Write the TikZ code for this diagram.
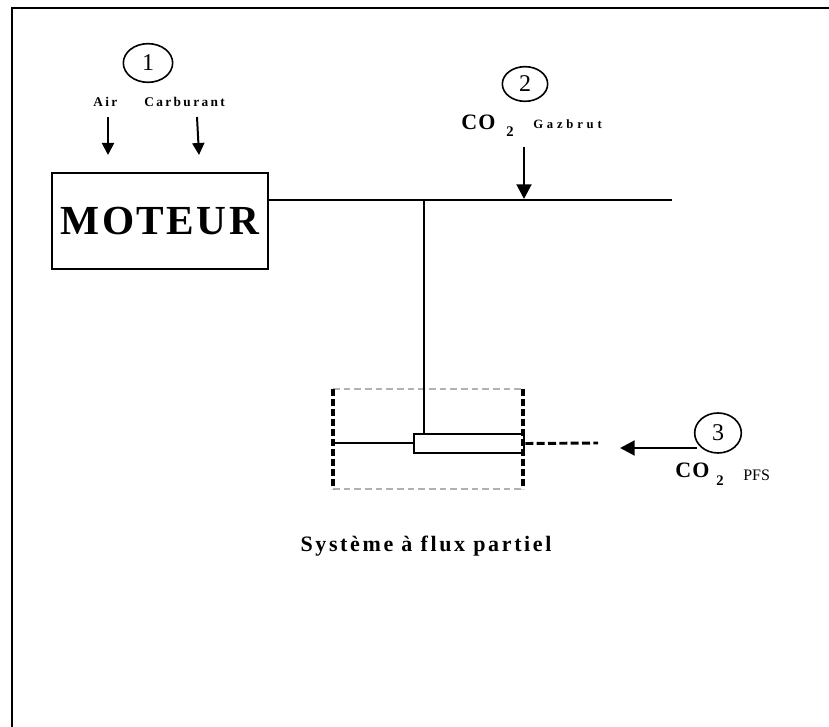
\documentclass[tikz,border=0pt]{standalone}
\usepackage{fontspec}
\setmainfont{Liberation Serif}
\usetikzlibrary{shapes.geometric,arrows.meta}

\newfontfamily\moteurfont[LetterSpace=6]{Liberation Serif}
\newfontfamily\petitfont[LetterSpace=18]{Liberation Serif}
\newfontfamily\gazfont[LetterSpace=30]{Liberation Serif}
\newfontfamily\cofont[LetterSpace=6]{Liberation Serif}
\newfontfamily\sysfont[LetterSpace=12]{Liberation Serif}

\tikzstyle{num} = [draw, ellipse, line width=1.2pt, inner sep=0pt, font=\fontsize{18}{18}\selectfont]
\tikzstyle{fleche} = [line width=1.5pt, -{Triangle[length=9pt,width=9pt]}]
\tikzstyle{grossefleche} = [line width=2.2pt, -{Triangle[length=11pt,width=11pt]}]
\tikzstyle{txt} = [inner sep=0pt, anchor=base west]

\begin{document}
\begin{tikzpicture}[x=0.75pt, y=-0.75pt]
\useasboundingbox (0,0) rectangle (829,727);
% cadre
\draw[line width=1.5pt] (12,727) -- (12,8) -- (829,8);

% moteur et entrees
\node[draw, line width=1.2pt, minimum width=162pt, minimum height=72pt, inner sep=0pt,
      font=\moteurfont\fontsize{31}{31}\selectfont\bfseries] (moteur) at (160,221) {MOTEUR};
\node[num, minimum width=37pt, minimum height=29pt] (un) at (148,63) {1};
\node[txt, font=\petitfont\fontsize{10}{10}\selectfont\bfseries] (air) at (93,107) {Air};
\node[txt, font=\petitfont\fontsize{10}{10}\selectfont\bfseries] (carb) at (144,107) {Carburant};
\coordinate (airhaut) at (108,117);
\coordinate (airbas) at (108,155);
\coordinate (carbhaut) at (197,117);
\coordinate (carbbas) at (199,155);
\draw[fleche] (airhaut) -- (airbas);
\draw[fleche] (carbhaut) -- (carbbas);

% ligne d'echappement
\coordinate (fin) at (672,200);
\coordinate (jonction) at (424,200);
\draw[line width=1.5pt] (moteur.east |- fin) -- (fin);

% gaz brut
\node[num, minimum width=34pt, minimum height=26pt] (deux) at (525,84) {2};
\node[txt, font=\cofont\fontsize{16.5}{16.5}\selectfont\bfseries] (cobrut) at (461,130) {CO};
\node[txt, font=\fontsize{11}{11}\selectfont\bfseries] (indbrut) at (506,137) {2};
\node[txt, font=\gazfont\fontsize{9.5}{9.5}\selectfont\bfseries] (gaz) at (533,129) {Gazbrut};
\coordinate (gazhaut) at (524,147);
\coordinate (gazbas) at (524,199);
\draw[grossefleche] (gazhaut) -- (gazbas);

% systeme a flux partiel
\draw[line width=0.8pt, gray!60, dash pattern=on 5pt off 3pt] (333,389) -- (523,389);
\draw[line width=0.8pt, gray!60, dash pattern=on 5pt off 3pt] (333,489) -- (523,489);
\draw[line width=2.4pt, dash pattern=on 5pt off 2.5pt] (333,389) -- (333,489);
\draw[line width=2.4pt, dash pattern=on 5pt off 2.5pt] (523,389) -- (523,489);
\node[draw, line width=1.5pt, minimum width=83pt, minimum height=14pt, inner sep=0pt] (tube) at (469,443.5) {};
\coordinate (entree) at (333,443.5);
\coordinate (sortie) at (598,443);
\draw[line width=1.5pt] (jonction) -- (jonction |- tube.north);
\draw[line width=1.5pt] (entree) -- (tube.west);
\draw[line width=2.2pt, dash pattern=on 6pt off 2.5pt] (tube.east) -- (sortie);
\node[font=\sysfont\fontsize{16.5}{16.5}\selectfont\bfseries, anchor=base] (sys) at (426,551) {Système à flux partiel};

% co2 pfs
\node[num, minimum width=35pt, minimum height=30pt] (trois) at (718,433) {3};
\node[txt, font=\cofont\fontsize{16.5}{16.5}\selectfont\bfseries] (copfs) at (675,478) {CO};
\node[txt, font=\fontsize{11}{11}\selectfont\bfseries] (indpfs) at (716,485) {2};
\node[txt, font=\fontsize{12}{12}\selectfont] (pfs) at (743,480) {PFS};
\coordinate (pfsdroite) at (697,448);
\coordinate (pfsgauche) at (620,448);
\draw[grossefleche] (pfsdroite) -- (pfsgauche);
\end{tikzpicture}
\end{document}
